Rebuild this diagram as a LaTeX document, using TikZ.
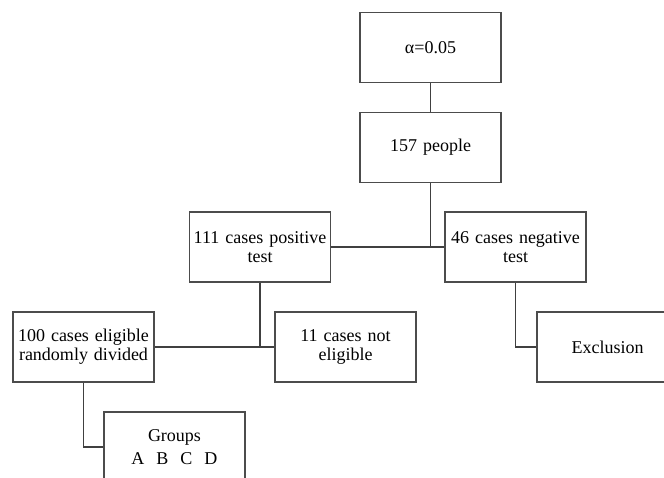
\documentclass[tikz,border=0pt]{standalone}
\usepackage{fontspec}
\setmainfont{Liberation Serif}
\usetikzlibrary{positioning}

\begin{document}
\begin{tikzpicture}[x=0.75pt,y=-0.75pt,
    boite/.style={draw=black!70,line width=0.8pt,rectangle,minimum width=105.75pt,minimum height=52.5pt,
        text width=104pt,align=center,inner sep=0pt,font=\fontsize{13.5}{14}\selectfont},
    lien/.style={draw=black!75,line width=0.8pt}]
            \clip (0,0) rectangle (664,478);
            \fill[white] (0,0) rectangle (664,478);
            \node[boite] (alpha) at (430.5,47.5) {α=0.05};
            \node[boite] (people) at (430.5,147.5) {157 people};
            \node[boite] (pos) at (260,247) {111 cases positive\\test};
            \node[boite] (neg) at (515.5,247) {46 cases negative\\test};
            \node[boite] (elig) at (83.5,347) {100 cases eligible\\randomly divided};
            \node[boite] (noteli) at (345.5,347) {11 cases not\\eligible};
            \node[boite] (excl) at (607.5,347) {Exclusion};
            \node[boite] (groups) at (174.5,447) {Groups\\[3pt]A~~B~~C~~D}; % coupe en bas
            \draw[lien] (alpha) -- (people);
            \draw[lien] (people.south) -- (people.south |- neg.west);
            \draw[lien] (pos.east) -- (neg.west);
            \draw[lien] (pos.south) -- (pos.south |- noteli.west);
            \draw[lien] (elig.east) -- (noteli.west);
            \draw[lien] (neg.south) |- (excl.west);
            \draw[lien] (elig.south) |- (groups.west);
        \end{tikzpicture}
\end{document}
